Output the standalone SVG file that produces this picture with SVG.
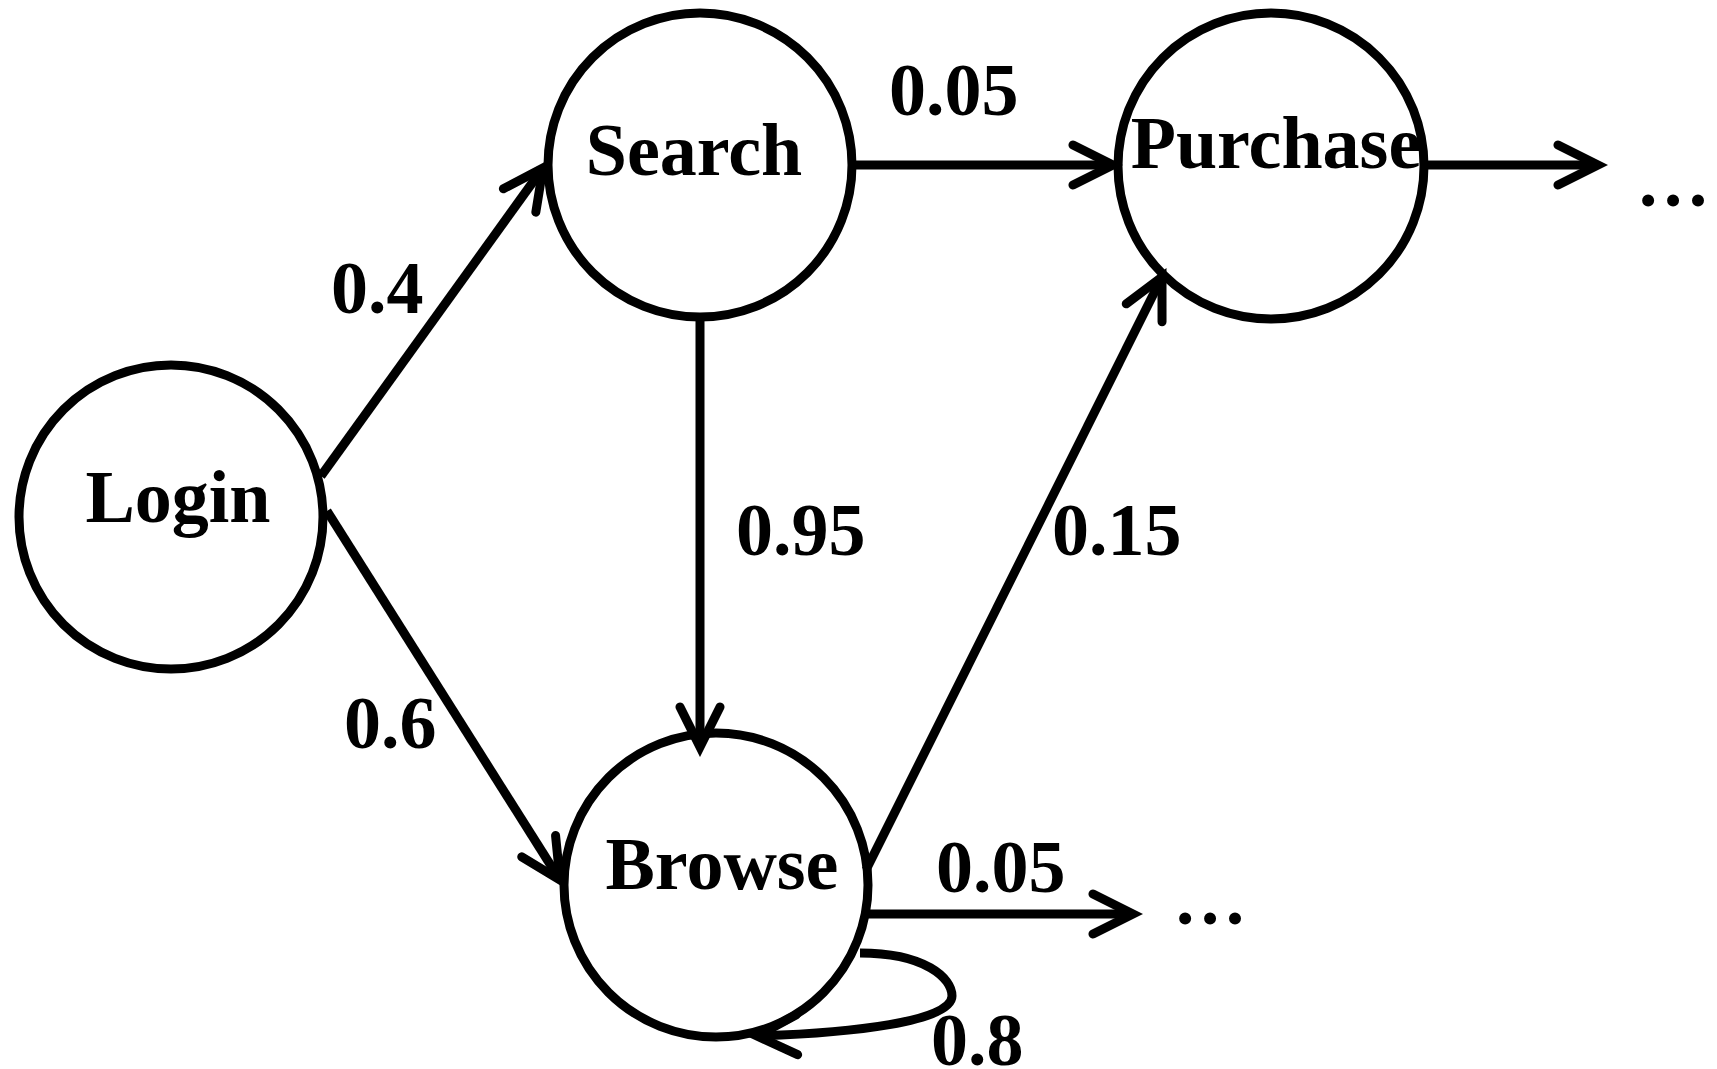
<svg xmlns="http://www.w3.org/2000/svg" width="1717" height="1069" viewBox="0 0 1717 1069">
<style>
.node{fill:#fff;stroke:#000;stroke-width:9}
.lbl{font-family:"Liberation Serif","Times New Roman",serif;font-weight:bold;font-size:74px;fill:#000}
.mid{text-anchor:middle}
.edge{fill:none;stroke:#000;stroke-width:9}
</style>
<defs>
<marker id="ah" markerUnits="userSpaceOnUse" markerWidth="64" markerHeight="64" viewBox="-54 -32 64 64" refX="0" refY="0" orient="auto">
<path d="M-40,-20 L0,0 L-40,20" fill="none" stroke="#000" stroke-width="9" stroke-linecap="round" stroke-linejoin="miter"/>
</marker>
</defs>
<rect width="1717" height="1069" fill="#fff"/>
<g id="login"><circle class="node" cx="171" cy="517" r="152"/><text class="lbl mid" x="178" y="522">Login</text></g>
<g id="search"><circle class="node" cx="700" cy="165" r="152"/><text class="lbl mid" x="694" y="175">Search</text></g>
<g id="purchase"><circle class="node" cx="1271" cy="166" r="153"/><text class="lbl mid" x="1276" y="168">Purchase</text></g>
<g id="browse"><circle class="node" cx="716" cy="885" r="152"/><text class="lbl mid" x="722" y="889">Browse</text></g>
<g id="connectors">
<path class="edge" d="M321,476 L543,168" marker-end="url(#ah)"/>
<path class="edge" d="M327,511 L560,880" marker-end="url(#ah)"/>
<path class="edge" d="M700,317 L700,747" marker-end="url(#ah)"/>
<path class="edge" d="M852,165 L1113,165" marker-end="url(#ah)"/>
<path class="edge" d="M1424,165 L1598,165" marker-end="url(#ah)"/>
<path class="edge" d="M866,870 L1162,277" marker-end="url(#ah)"/>
<path class="edge" d="M868,914 L1133,914" marker-end="url(#ah)"/>
<path class="edge" d="M860,953 C925,953 952,978 952,996 C952,1022 850,1033 757,1036" marker-end="url(#ah)"/>
</g>
<g id="labels">
<text class="lbl" x="889" y="115">0.05</text>
<text class="lbl" x="331" y="313">0.4</text>
<text class="lbl" x="344" y="748">0.6</text>
<text class="lbl" x="736" y="555">0.95</text>
<text class="lbl" x="1052" y="555">0.15</text>
<text class="lbl" x="936" y="892">0.05</text>
<text class="lbl" x="931" y="1065">0.8</text>
<text class="lbl" x="1636" y="206">…</text>
<text class="lbl" x="1173" y="924">…</text>
</g>
</svg>
